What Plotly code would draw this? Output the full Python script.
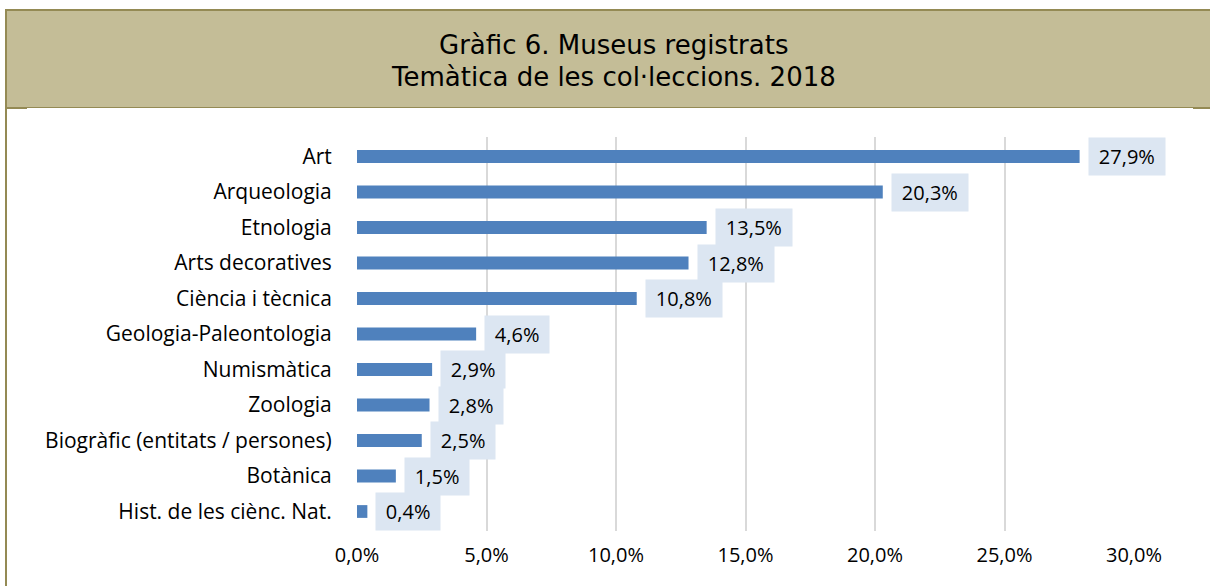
import plotly.graph_objects as go

categories = ["Art", "Arqueologia", "Etnologia", "Arts decoratives", "Ciència i tècnica",
              "Geologia-Paleontologia", "Numismàtica", "Zoologia",
              "Biogràfic (entitats / persones)", "Botànica", "Hist. de les ciènc. Nat."]
values = [27.9, 20.3, 13.5, 12.8, 10.8, 4.6, 2.9, 2.8, 2.5, 1.5, 0.4]
tick_vals = [0, 5, 10, 15, 20, 25, 30]
tick_text = ["0,0%", "5,0%", "10,0%", "15,0%", "20,0%", "25,0%", "30,0%"]
title_lines = ["Gràfic 6. Museus registrats", "Temàtica de les col·leccions. 2018"]

W_PX, H_PX = 1210, 586
L, R, T, B = 357, 1134, 137, 531
PW, PH = R - L, B - T

def px(x):
    return (x - L) / PW

def py(y):
    return (B - y) / PH

BORDER = "#948A54"
HEADER = "#C4BD97"
LABEL_FONT = "Open Sans"
LABEL_SIZE = 20
CAT_SIZE = 21

def label_width(s):
    # approximate rendered width of the label text (Open Sans metrics)
    w = 0.0
    for ch in s:
        if ch.isdigit():
            w += 0.572
        elif ch == ",":
            w += 0.25
        elif ch == "%":
            w += 0.82
        else:
            w += 0.55
    return w * LABEL_SIZE

fig = go.Figure()
fig.add_trace(go.Bar(
    x=values, y=categories, orientation="h",
    marker=dict(color="#4F81BD", line=dict(width=0)),
    hoverinfo="skip",
))

for c, v in zip(categories, values):
    txt = f"{v:.1f}".replace(".", ",") + "%"
    fig.add_annotation(
        x=v, y=c, xref="x", yref="y",
        text=txt,
        showarrow=False, xanchor="left", yanchor="middle",
        xshift=8, bgcolor="#DCE6F2", borderpad=5,
        width=label_width(txt) + 10, align="center",
        font=dict(family=LABEL_FONT, size=LABEL_SIZE, color="#000000"),
    )

shapes = [
    dict(type="rect", xref="paper", yref="paper", x0=px(6), x1=px(1211), y0=py(107), y1=py(10),
         fillcolor=HEADER, line=dict(width=0), layer="below"),
    dict(type="line", xref="paper", yref="paper", x0=px(5), x1=px(1211), y0=py(10), y1=py(10),
         line=dict(color=BORDER, width=2)),
    dict(type="line", xref="paper", yref="paper", x0=px(6), x1=px(1211), y0=py(107.5), y1=py(107.5),
         line=dict(color=BORDER, width=1)),
    dict(type="line", xref="paper", yref="paper", x0=px(6), x1=px(27), y0=py(108), y1=py(108),
         line=dict(color=BORDER, width=2)),
    dict(type="line", xref="paper", yref="paper", x0=px(1193), x1=px(1211), y0=py(108), y1=py(108),
         line=dict(color=BORDER, width=2)),
    dict(type="line", xref="paper", yref="paper", x0=px(6), x1=px(6), y0=py(9), y1=py(590),
         line=dict(color=BORDER, width=2)),
]

for i, line in enumerate(title_lines):
    fig.add_annotation(
        x=px(613), y=py(45 + 32 * i), xref="paper", yref="paper",
        text=line, showarrow=False, xanchor="center", yanchor="middle",
        font=dict(family="DejaVu Sans", size=26, color="#000000"),
    )

fig.update_layout(
    width=W_PX, height=H_PX,
    margin=dict(l=L, r=W_PX - R, t=T, b=H_PX - B, autoexpand=False),
    paper_bgcolor="#FFFFFF", plot_bgcolor="#FFFFFF",
    showlegend=False, bargap=0.64,
    shapes=shapes,
    xaxis=dict(range=[0, 30], tickvals=tick_vals, ticktext=tick_text,
               showgrid=True, gridcolor="#D9D9D9", gridwidth=2,
               zeroline=False, showline=False,
               ticks="outside", ticklen=6, tickcolor="rgba(0,0,0,0)",
               tickfont=dict(family=LABEL_FONT, size=LABEL_SIZE, color="#000000")),
    yaxis=dict(autorange="reversed", showgrid=False, zeroline=False, showline=False,
               ticks="outside", ticklen=20, tickcolor="rgba(0,0,0,0)",
               tickfont=dict(family=LABEL_FONT, size=CAT_SIZE, color="#000000")),
)

fig.write_html("out.html", config={"displayModeBar": False},
               post_script="document.body.style.margin='0';")
